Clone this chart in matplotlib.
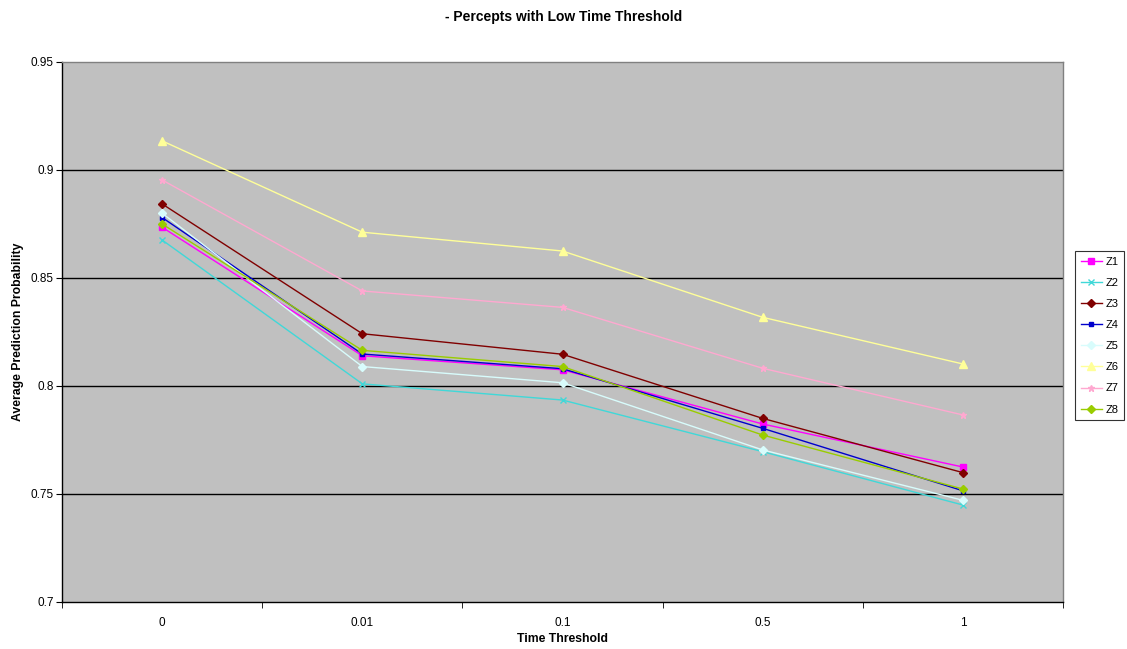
import numpy as np
import matplotlib
matplotlib.use('Agg')
import matplotlib.pyplot as plt

plt.rcParams['font.family'] = ['Liberation Sans', 'DejaVu Sans']

thresholds = ['0', '0.01', '0.1', '0.5', '1']

z1 = [0.8735, 0.814, 0.8075, 0.7824, 0.7625]
z2 = [0.8676, 0.801, 0.7935, 0.7696, 0.7449]
z3 = [0.8843, 0.8242, 0.8147, 0.785, 0.7599]
z4 = [0.878, 0.8148, 0.808, 0.7804, 0.7515]
z5 = [0.880, 0.809, 0.8015, 0.7704, 0.7471]
z6 = [0.9135, 0.8712, 0.8625, 0.8318, 0.8102]
z7 = [0.8954, 0.844, 0.8364, 0.8082, 0.7866]
z8 = [0.875, 0.8165, 0.809, 0.7773, 0.7523]

series = [('Z1', z1), ('Z2', z2), ('Z3', z3), ('Z4', z4),
          ('Z5', z5), ('Z6', z6), ('Z7', z7), ('Z8', z8)]
colors = ['#FF00FF', '#40D8D8', '#800000', '#0000CC',
          '#D8FCFC', '#FFFF99', '#FFA8D0', '#99CC00']
markers = ['s', 'x', 'D', 's', 'D', '^', '*', 'D']
msizes = [4.5, 4, 4, 2.5, 4, 5.5, 5, 4]

fig = plt.figure(figsize=(11.27, 6.49), dpi=100)
ax = fig.add_axes([62/1127, 47/649, 1001/1127, 540/649])
ax.set_facecolor('#C0C0C0')

x = np.arange(len(thresholds))
for (name, vals), c, m, ms in zip(series, colors, markers, msizes):
    ax.plot(x, vals, color=c, marker=m, markersize=ms, lw=1.0,
            markeredgecolor=c, label=name, zorder=3)

ax.set_xlim(-0.5, 4.5)
ax.set_ylim(0.7, 0.95)
ax.set_xticks(x)
ax.set_xticklabels(thresholds)
ax.set_xticks(np.arange(-0.5, 5.0, 1.0), minor=True)
ax.tick_params(axis='x', which='major', length=0, pad=11, labelsize=8.5)
ax.tick_params(axis='x', which='minor', length=4, direction='out')
ax.set_yticks([0.7, 0.75, 0.8, 0.85, 0.9, 0.95])
ax.set_yticklabels(['0.7', '0.75', '0.8', '0.85', '0.9', '0.95'])
ax.tick_params(axis='y', length=4, direction='out', labelsize=8.5, pad=2)

for yv in [0.75, 0.8, 0.85, 0.9]:
    ax.axhline(yv, color='black', lw=1.0, zorder=1)

ax.spines['left'].set_color('black')
ax.spines['bottom'].set_color('black')
ax.spines['top'].set_color('#808080')
ax.spines['right'].set_color('#808080')
for s in ax.spines.values():
    s.set_linewidth(1.0)

ax.set_xlabel('Time Threshold', fontsize=8.8, fontweight='bold', labelpad=3)
ax.set_ylabel('Average Prediction Probability', fontsize=8.8, fontweight='bold', labelpad=5)
fig.text(0.5, 1 - 17/649, '- Percepts with Low Time Threshold', ha='center', va='center',
         fontsize=10, fontweight='bold')

leg = ax.legend(loc='upper left', bbox_to_anchor=(1073/1127, 1 - 249/649),
                bbox_transform=fig.transFigure, fontsize=8, frameon=True,
                fancybox=False, handlelength=1.9, borderpad=0.5, labelspacing=1.0,
                handletextpad=0.3, borderaxespad=0.2)
leg.get_frame().set_edgecolor('black')
leg.get_frame().set_linewidth(0.8)

fig.savefig('out.png', dpi=100, facecolor='white')
